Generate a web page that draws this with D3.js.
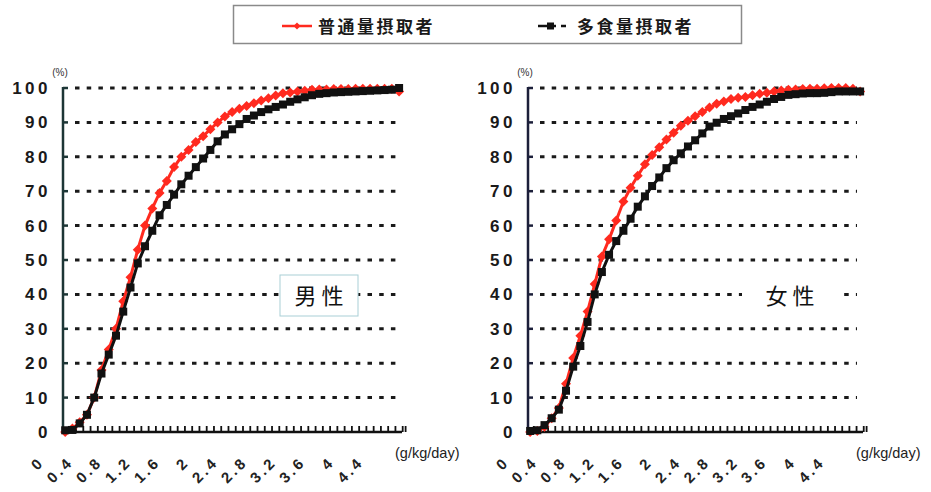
<!DOCTYPE html>
<html><head><meta charset="utf-8">
<script src="https://cdn.jsdelivr.net/npm/d3@7"></script>
<style>
  body { margin: 0; background: #fff; }
  svg { display: block; }
</style>
</head>
<body>
<svg id="chart" width="931" height="492"></svg>
<script>
// Protein intake (g/kg/day), one category every 0.1
const intake = [0, 0.1, 0.2, 0.3, 0.4, 0.5, 0.6, 0.7, 0.8, 0.9,
  1.0, 1.1, 1.2, 1.3, 1.4, 1.5, 1.6, 1.7, 1.8, 1.9,
  2.0, 2.1, 2.2, 2.3, 2.4, 2.5, 2.6, 2.7, 2.8, 2.9,
  3.0, 3.1, 3.2, 3.3, 3.4, 3.5, 3.6, 3.7, 3.8, 3.9,
  4.0, 4.1, 4.2, 4.3, 4.4, 4.5, 4.6];

// Cumulative share (%) – men
const menNormal = [0, 1, 2.8, 5, 10, 18, 24, 30, 38, 45,
  53, 60, 65, 69.5, 73, 77, 80, 82, 84.3, 86,
  88, 90, 91.7, 93, 94, 94.8, 95.6, 96.4, 97, 97.8,
  98.5, 98.7, 99, 99.2, 99.5, 99.6, 99.6, 99.7, 99.7, 99.7,
  99.8, 99.8, 99.8, 99.8, 99.8, 99.8, 99];
const menHigh = [0.5, 0.6, 2.5, 5, 10, 17, 22.5, 28, 35, 42,
  49, 54, 58.5, 63, 66, 69, 72, 74.5, 77, 79.5,
  82, 84.5, 86.5, 88, 89.5, 91, 92, 93, 93.8, 94.5,
  95.2, 96, 96.7, 97.3, 97.9, 98.3, 98.5, 98.7, 98.8, 98.9,
  99, 99.1, 99.2, 99.3, 99.4, 99.5, 100];

// Cumulative share (%) – women
const womenNormal = [0, 0.3, 1.5, 4, 7, 14, 21.5, 28, 35, 43,
  51, 56, 61.5, 67, 71, 74.5, 77.8, 80.5, 82.8, 85,
  87, 89, 90.5, 91.8, 93, 94.3, 95.4, 96.1, 96.8, 97.2,
  97.4, 97.9, 98.3, 98.6, 99, 99.3, 99.5, 99.6, 99.7, 99.8,
  99.8, 99.9, 100, 100, 100, 99.8, 99];
const womenHigh = [0.3, 0.5, 2, 4, 6.5, 12, 19, 25, 32, 40,
  46.5, 51.5, 55.5, 58.5, 62, 65.5, 68.5, 71.5, 74, 76.7,
  79, 81, 83, 84.8, 86.8, 88.8, 89.9, 91, 91.8, 92.6,
  93.6, 94.5, 95.2, 96, 96.8, 97.4, 98, 98.2, 98.4, 98.5,
  98.5, 98.6, 98.8, 99, 99, 99, 99];

const xTickLabels = ["0", "0.4", "0.8", "1.2", "1.6", "2", "2.4", "2.8", "3.2", "3.6", "4", "4.4"];
const yTicks = [0, 10, 20, 30, 40, 50, 60, 70, 80, 90, 100];
const seriesNames = ["普通量摂取者", "多食量摂取者"];

const svg = d3.select("#chart");
const RED = "#ff2a1f";
const BLACK = "#111";

function diamond(r) { return `M0,${-r}L${r},0L0,${r}L${-r},0Z`; }

function panel(cfg) {
  const g = svg.append("g");
  const x = d3.scaleLinear().domain([-0.03, 4.64]).range([cfg.left, cfg.right]);
  const y = d3.scaleLinear().domain([0, 100]).range([432, 88]);

  // dotted gridlines
  g.append("g").selectAll("line").data(yTicks.filter(d => d > 0)).join("line")
    .attr("x1", cfg.left + 12).attr("x2", cfg.right - 6)
    .attr("y1", d => y(d)).attr("y2", d => y(d))
    .attr("stroke", "#1a1a1a").attr("stroke-width", 3)
    .attr("stroke-dasharray", "4.5,7.2");

  // white panel behind the sex label
  g.append("rect")
    .attr("x", cfg.boxX).attr("y", 275).attr("width", cfg.boxW).attr("height", 41)
    .attr("fill", "#fff")
    .attr("stroke", cfg.boxBorder ? "#a9cfd6" : "none").attr("stroke-width", 1);
  g.append("text")
    .attr("x", cfg.boxX + cfg.boxW / 2).attr("y", 304)
    .attr("text-anchor", "middle")
    .attr("font-family", "'Noto Sans CJK JP', sans-serif")
    .attr("font-size", 22).attr("fill", "#111")
    .text(cfg.title);

  // y axis
  g.append("line").attr("x1", cfg.left).attr("x2", cfg.left)
    .attr("y1", y(100) - 1).attr("y2", y(0))
    .attr("stroke", cfg.axisColor).attr("stroke-width", 2.5);
  g.append("g").selectAll("line").data(yTicks).join("line")
    .attr("x1", cfg.left).attr("x2", cfg.left + 5)
    .attr("y1", d => y(d)).attr("y2", d => y(d))
    .attr("stroke", cfg.axisColor).attr("stroke-width", 2.5);
  g.append("g").selectAll("text").data(yTicks).join("text")
    .attr("x", cfg.left - 12).attr("y", d => y(d) + 6)
    .attr("text-anchor", "end")
    .attr("font-family", "Arial, 'Liberation Sans', sans-serif")
    .attr("font-weight", "bold").attr("font-size", 17)
    .attr("letter-spacing", 3.5).attr("fill", "#1a1a1a")
    .text(d => d);
  g.append("text").attr("x", cfg.left - 3).attr("y", 76)
    .attr("text-anchor", "middle")
    .attr("font-family", "Arial, 'Liberation Sans', sans-serif")
    .attr("font-size", 10).attr("fill", "#333").text("(%)");

  // x axis with category ticks
  g.append("line").attr("x1", cfg.left).attr("x2", cfg.right)
    .attr("y1", y(0)).attr("y2", y(0))
    .attr("stroke", BLACK).attr("stroke-width", 2.5);
  g.append("g").selectAll("line").data(intake.concat([4.64])).join("line")
    .attr("x1", d => x(d) + 3.6).attr("x2", d => x(d) + 3.6)
    .attr("y1", y(0)).attr("y2", y(0) - 6)
    .attr("stroke", BLACK).attr("stroke-width", 1.8);
  g.append("g").selectAll("text").data(xTickLabels).join("text")
    .attr("transform", d => `translate(${x(+d) - 20},463) rotate(-45)`)
    .attr("text-anchor", "end")
    .attr("font-family", "Arial, 'Liberation Sans', sans-serif")
    .attr("font-weight", "bold").attr("font-size", 15)
    .attr("letter-spacing", 3).attr("fill", "#222")
    .text(d => d);
  g.append("text").attr("x", cfg.right - 7).attr("y", 458)
    .attr("font-family", "Arial, 'Liberation Sans', sans-serif")
    .attr("font-size", 14.5).attr("fill", "#222").text("(g/kg/day)");

  const line = d3.line().x((d, i) => x(intake[i])).y(d => y(d));

  // normal-intake group (red diamonds)
  g.append("path").datum(cfg.normal).attr("d", line)
    .attr("fill", "none").attr("stroke", RED).attr("stroke-width", 3);
  g.append("g").selectAll("path").data(cfg.normal).join("path")
    .attr("transform", (d, i) => `translate(${x(intake[i])},${y(d)})`)
    .attr("d", diamond(5)).attr("fill", RED);

  // high-intake group (black squares)
  g.append("path").datum(cfg.high).attr("d", line)
    .attr("fill", "none").attr("stroke", BLACK).attr("stroke-width", 3);
  g.append("g").selectAll("rect").data(cfg.high).join("rect")
    .attr("x", (d, i) => x(intake[i]) - 4).attr("y", d => y(d) - 4)
    .attr("width", 8).attr("height", 8).attr("fill", BLACK);
}

panel({ left: 63, right: 402, axisColor: "#1d3636", normal: menNormal, high: menHigh,
  title: "男 性", boxX: 280, boxW: 78, boxBorder: true });
panel({ left: 528, right: 863, axisColor: "#1c1f3a", normal: womenNormal, high: womenHigh,
  title: "女 性", boxX: 742, boxW: 96, boxBorder: false });

// legend
const lg = svg.append("g");
lg.append("rect").attr("x", 233.5).attr("y", 5.5).attr("width", 508).attr("height", 38)
  .attr("fill", "#fff").attr("stroke", "#8a8a8a").attr("stroke-width", 1.5);
lg.append("line").attr("x1", 282).attr("x2", 312).attr("y1", 26).attr("y2", 26)
  .attr("stroke", RED).attr("stroke-width", 2.5);
lg.append("path").attr("transform", "translate(297,26)").attr("d", diamond(3.5)).attr("fill", RED);
lg.append("line").attr("x1", 538).attr("x2", 556).attr("y1", 26).attr("y2", 26)
  .attr("stroke", BLACK).attr("stroke-width", 2.5);
lg.append("rect").attr("x", 547).attr("y", 22.5).attr("width", 7).attr("height", 7).attr("fill", BLACK);
lg.append("line").attr("x1", 561).attr("x2", 566).attr("y1", 26).attr("y2", 26)
  .attr("stroke", BLACK).attr("stroke-width", 2.5);
lg.selectAll("text.name").data(seriesNames).join("text")
  .attr("class", "name")
  .attr("x", (d, i) => i === 0 ? 318 : 577).attr("y", 33)
  .attr("font-family", "'Noto Sans CJK JP', sans-serif")
  .attr("font-weight", "bold").attr("font-size", 17)
  .attr("letter-spacing", 2.5).attr("fill", "#1a1a1a")
  .text(d => d);
</script>
</body></html>
